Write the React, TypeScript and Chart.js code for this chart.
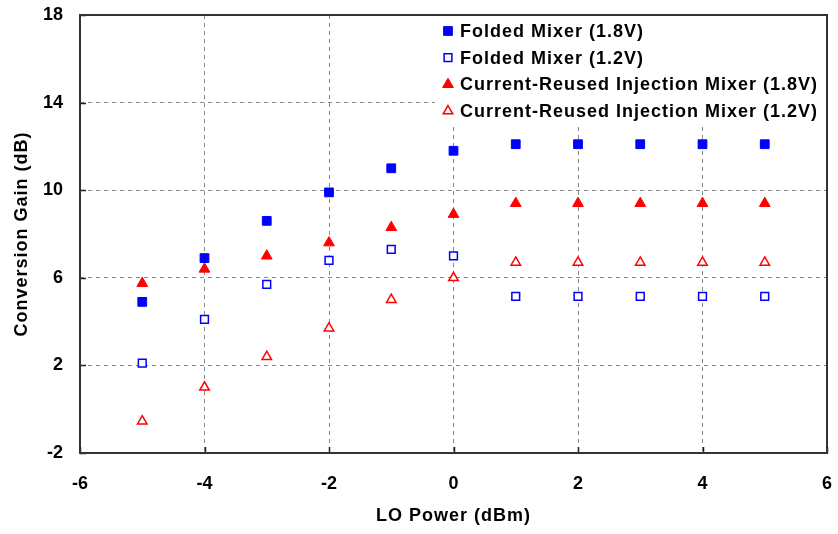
import React, { useEffect, useRef } from 'react';
import { Chart, registerables } from 'chart.js';

Chart.register(...registerables);

// LO power sweep (dBm)
const loPower = [-5, -4, -3, -2, -1, 0, 1, 2, 3, 4, 5];

// Conversion gain (dB) for each mixer / supply
const foldedMixer18 = [4.9, 6.9, 8.6, 9.9, 11.0, 11.8, 12.1, 12.1, 12.1, 12.1, 12.1];
const foldedMixer12 = [2.1, 4.1, 5.7, 6.8, 7.3, 7.0, 5.15, 5.15, 5.15, 5.15, 5.15];
const injectionMixer18 = [5.75, 6.4, 7.0, 7.6, 8.3, 8.9, 9.4, 9.4, 9.4, 9.4, 9.4];
const injectionMixer12 = [-0.55, 1.0, 2.4, 3.7, 5.0, 6.0, 6.7, 6.7, 6.7, 6.7, 6.7];

const seriesLabels = [
  'Folded Mixer (1.8V)',
  'Folded Mixer (1.2V)',
  'Current-Reused Injection Mixer (1.8V)',
  'Current-Reused Injection Mixer (1.2V)',
];

// Axis ranges and tick steps
const xMin = -6;
const xMax = 6;
const xStep = 2;
const yMin = -2;
const yMax = 18;
const yStep = 4;

const xTitle = 'LO Power (dBm)';
const yTitle = 'Conversion Gain (dB)';

const BLUE = '#0000ff';
const RED = '#ff0000';
const FONT_FAMILY = '"Liberation Sans", Arial, sans-serif';
const TEXT_FONT = `bold 18px ${FONT_FAMILY}`;

type Marker = { shape: 'rect' | 'triangle'; color: string; filled: boolean };

const markers: Marker[] = [
  { shape: 'rect', color: BLUE, filled: true },
  { shape: 'rect', color: BLUE, filled: false },
  { shape: 'triangle', color: RED, filled: true },
  { shape: 'triangle', color: RED, filled: false },
];

const seriesValues = [foldedMixer18, foldedMixer12, injectionMixer18, injectionMixer12];

const markerRadius = (m: Marker) => (m.filled ? 6.2 : 5.5);

function drawMarker(ctx: CanvasRenderingContext2D, m: Marker, cx: number, cy: number, r: number) {
  ctx.beginPath();
  if (m.shape === 'rect') {
    const s = Math.SQRT1_2 * r;
    ctx.rect(cx - s, cy - s, 2 * s, 2 * s);
  } else {
    let rad = 0;
    ctx.moveTo(cx + Math.sin(rad) * r, cy - Math.cos(rad) * r);
    rad += (2 * Math.PI) / 3;
    ctx.lineTo(cx + Math.sin(rad) * r, cy - Math.cos(rad) * r);
    rad += (2 * Math.PI) / 3;
    ctx.lineTo(cx + Math.sin(rad) * r, cy - Math.cos(rad) * r);
    ctx.closePath();
  }
  ctx.fillStyle = m.filled ? m.color : '#ffffff';
  ctx.fill();
  ctx.strokeStyle = m.color;
  ctx.lineWidth = m.filled ? 1 : 1.5;
  ctx.stroke();
}

const framePlugin = {
  id: 'frameAndLegend',
  beforeDatasetsDraw(chart: any) {
    const { ctx, chartArea: a } = chart;
    ctx.save();
    // legend panel sits over the grid in the upper right
    const boxLeft = a.right - 392;
    const boxBottom = a.top + 110;
    ctx.fillStyle = '#ffffff';
    ctx.fillRect(boxLeft, a.top, a.right - boxLeft, boxBottom - a.top);

    ctx.font = TEXT_FONT;
    (ctx as any).letterSpacing = '1px';
    ctx.textBaseline = 'middle';
    ctx.textAlign = 'left';
    seriesLabels.forEach((label, i) => {
      const cy = a.top + 16 + i * 26.7;
      drawMarker(ctx, markers[i], boxLeft + 13, cy, markerRadius(markers[i]));
      ctx.fillStyle = '#000000';
      ctx.fillText(label, boxLeft + 25, cy + 1);
    });
    ctx.restore();
  },
  afterDraw(chart: any) {
    const { ctx, chartArea: a, scales } = chart;
    const xs = scales.x;
    const ys = scales.y;
    ctx.save();
    // short inward tick marks on bottom and left axes
    ctx.strokeStyle = '#222222';
    ctx.lineWidth = 1.5;
    ctx.beginPath();
    xs.ticks.forEach((t: any) => {
      const px = Math.round(xs.getPixelForValue(t.value)) + 0.5;
      ctx.moveTo(px, a.bottom);
      ctx.lineTo(px, a.bottom - 6);
    });
    ys.ticks.forEach((t: any) => {
      const py = Math.round(ys.getPixelForValue(t.value)) + 0.5;
      ctx.moveTo(a.left, py);
      ctx.lineTo(a.left + 6, py);
    });
    ctx.stroke();

    // plot frame
    ctx.strokeStyle = '#333333';
    ctx.lineWidth = 2;
    ctx.strokeRect(a.left, a.top, a.right - a.left, a.bottom - a.top);

    // axis titles
    ctx.fillStyle = '#000000';
    ctx.font = TEXT_FONT;
    (ctx as any).letterSpacing = '1px';
    ctx.textAlign = 'center';
    ctx.textBaseline = 'middle';
    ctx.fillText(xTitle, (a.left + a.right) / 2, 516);
    ctx.translate(22, (a.top + a.bottom) / 2);
    ctx.rotate(-Math.PI / 2);
    ctx.fillText(yTitle, 0, 0);
    ctx.restore();
  },
};

export default function App() {
  const canvasRef = useRef<HTMLCanvasElement | null>(null);

  useEffect(() => {
    const canvas = canvasRef.current;
    if (!canvas) return;

    const datasets = seriesValues.map((values, i) => {
      const m = markers[i];
      return {
        label: seriesLabels[i],
        data: loPower.map((x, k) => ({ x, y: values[k] })),
        showLine: false,
        pointStyle: m.shape,
        pointRadius: markerRadius(m),
        pointBorderWidth: m.filled ? 1 : 1.5,
        pointBackgroundColor: m.filled ? m.color : '#ffffff',
        pointBorderColor: m.color,
        backgroundColor: m.filled ? m.color : '#ffffff',
        borderColor: m.color,
      };
    });

    const tickFont = { family: FONT_FAMILY, size: 18, weight: 'bold' as const };

    const chart = new Chart(canvas, {
      type: 'scatter',
      data: { datasets },
      options: {
        animation: false,
        responsive: false,
        layout: { padding: { top: 15, right: 11, left: 0, bottom: 0 } },
        plugins: {
          legend: { display: false },
          tooltip: { enabled: false },
        },
        scales: {
          x: {
            type: 'linear',
            min: xMin,
            max: xMax,
            ticks: {
              stepSize: xStep,
              font: tickFont,
              color: '#000000',
              padding: 20,
              maxRotation: 0,
            },
            grid: {
              color: (c: any) =>
                c.tick && (c.tick.value === xMin || c.tick.value === xMax) ? 'rgba(0,0,0,0)' : '#888888',
              lineWidth: 1,
              drawTicks: false,
            },
            border: { display: false, dash: [4, 4] },
            afterFit: (scale: any) => {
              scale.height = 81;
              scale.paddingLeft = 0;
              scale.paddingRight = 0;
            },
          },
          y: {
            type: 'linear',
            min: yMin,
            max: yMax,
            ticks: {
              stepSize: yStep,
              font: tickFont,
              color: '#000000',
              padding: 17,
            },
            grid: {
              color: (c: any) =>
                c.tick && (c.tick.value === yMin || c.tick.value === yMax) ? 'rgba(0,0,0,0)' : '#888888',
              lineWidth: 1,
              drawTicks: false,
            },
            border: { display: false, dash: [4, 4] },
            afterFit: (scale: any) => {
              scale.width = 80;
              scale.paddingTop = 0;
              scale.paddingBottom = 0;
            },
          },
        },
      },
      plugins: [framePlugin],
    });

    return () => chart.destroy();
  }, []);

  return (
    <div style={{ position: 'absolute', left: 0, top: 0, width: 838, height: 534, background: '#ffffff' }}>
      <canvas ref={canvasRef} width={838} height={534} />
    </div>
  );
}
